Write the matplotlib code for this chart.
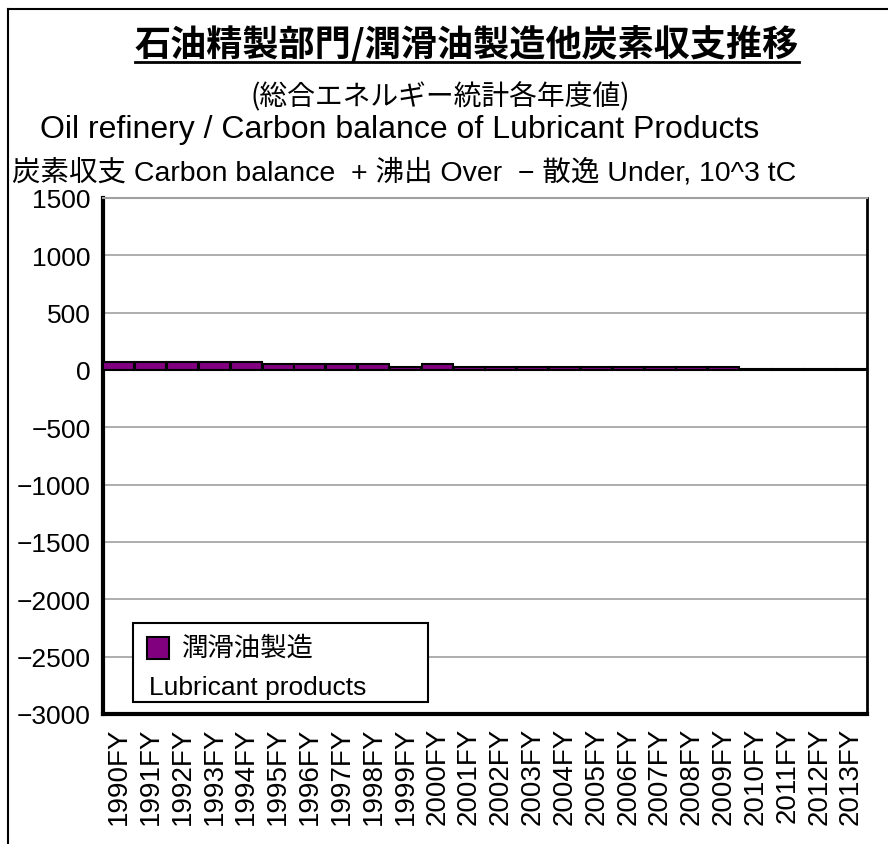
import matplotlib.pyplot as plt
from matplotlib.lines import Line2D
from matplotlib.patches import Rectangle

# data (10^3 tC)
years = ['1990FY', '1991FY', '1992FY', '1993FY', '1994FY', '1995FY', '1996FY', '1997FY',
         '1998FY', '1999FY', '2000FY', '2001FY', '2002FY', '2003FY', '2004FY', '2005FY',
         '2006FY', '2007FY', '2008FY', '2009FY', '2010FY', '2011FY', '2012FY', '2013FY']
lubricant = [72, 72, 72, 72, 72, 55, 55, 55, 55, 28, 55, 28, 28, 28, 28, 28,
             28, 28, 28, 28, 12, 12, 12, 12]
yticks = [1500, 1000, 500, 0, -500, -1000, -1500, -2000, -2500, -3000]

W, H = 888, 845
JP = ['Noto Sans CJK JP', 'DejaVu Sans']
MIX = ['Liberation Sans', 'Noto Sans CJK JP']

fig = plt.figure(figsize=(W / 100, H / 100), dpi=100)
ax = fig.add_axes([103 / W, 1 - 715 / H, (867 - 103) / W, (715 - 199) / H])

x = list(range(len(years)))
ax.bar(x, lubricant, width=0.97, color='#800080', edgecolor='black', linewidth=1.5, zorder=3)
ax.axhline(0, color='black', linewidth=1.2, zorder=4)

ax.set_xlim(-0.5, len(years) - 0.5)
ax.set_ylim(-3000, 1500)
ax.set_yticks(yticks)
ax.set_yticklabels([str(v).replace('-', '\u2212') for v in yticks], fontsize=19, family=MIX)
ax.set_xticks(x)
ax.set_xticklabels(years, rotation=90, fontsize=20, family=MIX)
ax.tick_params(axis='x', length=0, pad=9)
ax.tick_params(axis='y', length=0, pad=9)
ax.grid(axis='y', color='#a0a0a0', linewidth=1.2, zorder=0)

for side in ['left', 'bottom']:
    ax.spines[side].set_linewidth(3)
ax.spines['right'].set_linewidth(2)
ax.spines['top'].set_color('#a0a0a0')
ax.spines['top'].set_linewidth(1.5)

# legend box drawn by hand (two-line label, second line starts under the swatch)
ax.add_patch(Rectangle((0.039, 0.023), 0.386, 0.154, transform=ax.transAxes,
                       facecolor='white', edgecolor='black', linewidth=1.5, zorder=5))
ax.add_patch(Rectangle((0.058, 0.106), 0.029, 0.044, transform=ax.transAxes,
                       facecolor='#800080', edgecolor='black', linewidth=1.5, zorder=6))
ax.text(0.103, 0.129, '潤滑油製造', transform=ax.transAxes, fontsize=19, family=JP,
        va='center', ha='left', zorder=6)
ax.text(0.060, 0.052, 'Lubricant products', transform=ax.transAxes, fontsize=19, family=MIX,
        va='center', ha='left', zorder=6)

# titles
title = fig.text(467 / W, 1 - 45 / H, '石油精製部門/潤滑油製造他炭素収支推移', fontsize=26,
                 fontweight='bold', family=JP, ha='center', va='center')
fig.text(440 / W, 1 - 97 / H, '(総合エネルギー統計各年度値)', fontsize=20, family=JP,
         ha='center', va='center')
fig.text(400 / W, 1 - 130 / H, 'Oil refinery / Carbon balance of Lubricant Products',
         fontsize=23, family=MIX, ha='center', va='center')
fig.text(12 / W, 1 - 173 / H, '炭素収支 Carbon balance  + 沸出 Over  \u2212 散逸 Under, 10^3 tC',
         fontsize=20.5, family=MIX, ha='left', va='center')

# underline under the main title
fig.canvas.draw()
bb = title.get_window_extent().transformed(fig.transFigure.inverted())
fig.add_artist(Line2D([bb.x0, bb.x1], [1 - 63 / H, 1 - 63 / H], color='black', linewidth=2))

# outer chart frame (left and top edges)
fig.add_artist(Line2D([8 / W, 8 / W], [0, 1 - 10 / H], color='black', linewidth=1.5))
fig.add_artist(Line2D([8 / W, 1], [1 - 10 / H, 1 - 10 / H], color='black', linewidth=1.5))

fig.savefig('out.png', dpi=100)
